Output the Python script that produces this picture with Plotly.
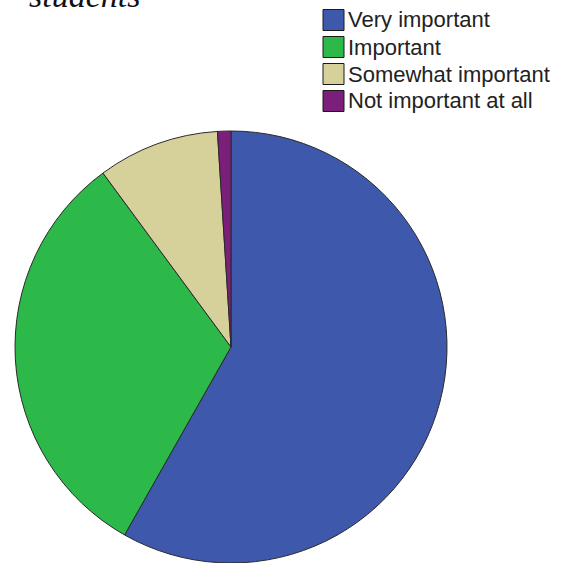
import plotly.graph_objects as go

labels = ["Very important", "Important", "Somewhat important", "Not important at all"]
values = [58.2, 31.7, 9.1, 1.0]
colors = ["#3E58AC", "#2DB84A", "#D6D09A", "#7B1F7B"]
title_text = "students"

W, H = 568, 563

fig = go.Figure()
fig.add_trace(go.Pie(
    labels=labels, values=values, sort=False, direction="clockwise", rotation=0,
    marker=dict(colors=colors, line=dict(color="#2a2a2a", width=1)),
    textinfo="none", hoverinfo="label+percent", showlegend=False,
    domain=dict(x=[14 / W, 448 / W], y=[0, 432 / H]),
))

# manual legend (large square swatches)
sq_x0, sq_x1 = 323, 344
row_top0, row_step, sq_h = 9.5, 27, 21
for i, (lab, col) in enumerate(zip(labels, colors)):
    top = row_top0 + i * row_step
    fig.add_shape(type="rect", xref="paper", yref="paper",
                  x0=sq_x0 / W, x1=sq_x1 / W,
                  y0=1 - (top + sq_h) / H, y1=1 - top / H,
                  fillcolor=col, line=dict(color="#1a1a1a", width=1))
    fig.add_annotation(xref="paper", yref="paper", x=346 / W, y=1 - (top + sq_h / 2) / H,
                       xanchor="left", yanchor="middle", text=lab, showarrow=False,
                       font=dict(family="Liberation Sans, Arial", size=22, color="#222222"))

# partially visible title line at the top
fig.add_annotation(xref="paper", yref="paper", x=27 / W, y=1 - 16 / H,
                   xanchor="left", yanchor="bottom", text="<i>" + title_text + "</i>",
                   showarrow=False,
                   font=dict(family="Liberation Serif, serif", size=34, color="#111111"))

fig.update_layout(width=W, height=H, margin=dict(l=0, r=0, t=0, b=0),
                  paper_bgcolor="white", plot_bgcolor="white")
fig.write_html("out.html", config={"displayModeBar": False},
               post_script="document.body.style.margin='0px';")
